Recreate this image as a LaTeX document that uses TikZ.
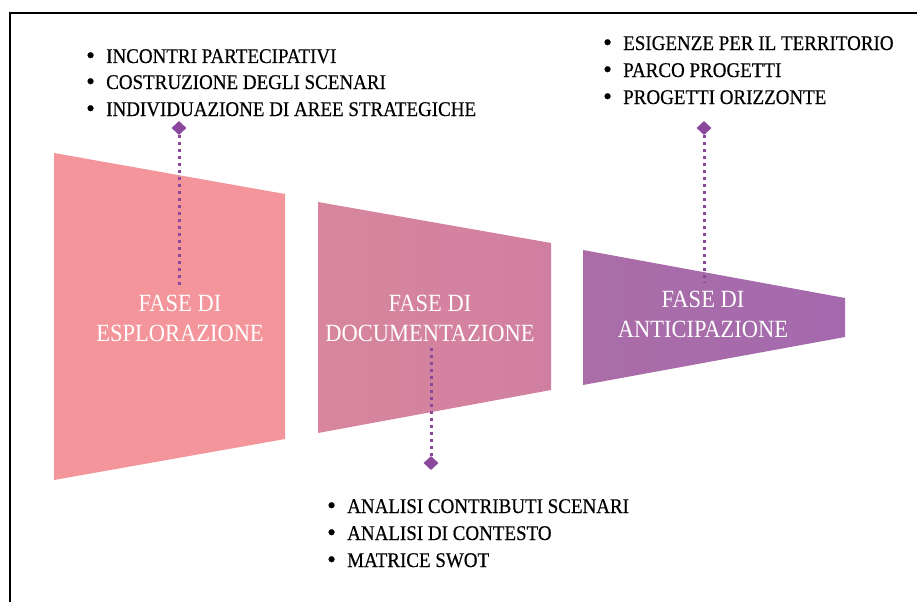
\documentclass[tikz,border=0pt]{standalone}
\usepackage{fontspec}
\setmainfont{Liberation Serif}
\newfontfamily\listfont[FakeBold=0.5]{Liberation Serif}
\usetikzlibrary{shapes.geometric}
\definecolor{phaseA}{HTML}{F3959A}
\definecolor{phaseBl}{HTML}{D7869D}
\definecolor{phaseBr}{HTML}{D17FA0}
\definecolor{phaseCl}{HTML}{AA6DA8}
\definecolor{phaseCr}{HTML}{A46AAD}
\definecolor{linkc}{HTML}{8A479B}
\tikzset{
  listitem/.style={anchor=base west, inner sep=0pt, font=\listfont\fontsize{19}{19}\selectfont, text=black},
  phaselabel/.style={align=center, text=white, font=\fontsize{22.5}{30}\selectfont, inner sep=0pt},
  marker/.style={diamond, fill=linkc, inner sep=0pt, minimum width=15pt, minimum height=14pt},
  leader/.style={draw=linkc, line width=3pt, dash pattern=on 3pt off 4pt},
  frameline/.style={draw=black, line width=2pt},
}
\newcommand{\bitem}[1]{\makebox[20pt][l]{\raisebox{-0.5pt}{\fontsize{25}{25}\selectfont •}}\scalebox{1}[1.1]{#1}}
\newcommand{\tall}[1]{\scalebox{1}[1.1]{#1}}
\begin{document}
\begin{tikzpicture}[x=1pt,y=-1pt]
\useasboundingbox (0,0) rectangle (917,602);
% frame
\draw[frameline] (10,602) -- (10,13) -- (917,13);
% funnel segments
\fill[phaseA] (54,153) -- (285,194) -- (285,439) -- (54,480) -- cycle;
\shade[left color=phaseBl, right color=phaseBr] (318,202) -- (551,243) -- (551,390) -- (318,433) -- cycle;
\shade[left color=phaseCl, right color=phaseCr] (583,250) -- (845,298) -- (845,337) -- (583,385) -- cycle;
% connectors
\node[marker] (d1) at (179,128) {};
\coordinate (e1) at (179,287);
\draw[leader] (d1.south) -- (e1);
\node[marker] (d2) at (431,463) {};
\coordinate (e2) at (431,346);
\draw[leader] (d2.north) -- (e2);
\node[marker] (d3) at (704,128) {};
\coordinate (e3) at (704,283);
\draw[leader] (d3.south) -- (e3);
% phase labels
\node[phaselabel] (p1) at (180,318.5) {\tall{FASE DI}\\\tall{ESPLORAZIONE}};
\node[phaselabel] (p2) at (430,318.5) {\tall{FASE DI}\\\tall{DOCUMENTAZIONE}};
\node[phaselabel] (p3) at (703,314.5) {\tall{FASE DI}\\\tall{ANTICIPAZIONE}};
% lists
\node[listitem] (a1) at (86,63) {\bitem{INCONTRI PARTECIPATIVI}};
\node[listitem] (a2) at (86,89) {\bitem{COSTRUZIONE DEGLI SCENARI}};
\node[listitem] (a3) at (86,116) {\bitem{INDIVIDUAZIONE DI AREE STRATEGICHE}};
\node[listitem] (c1) at (603,50) {\bitem{ESIGENZE PER IL TERRITORIO}};
\node[listitem] (c2) at (603,77) {\bitem{PARCO PROGETTI}};
\node[listitem] (c3) at (603,104) {\bitem{PROGETTI ORIZZONTE}};
\node[listitem] (b1) at (327,513) {\bitem{ANALISI CONTRIBUTI SCENARI}};
\node[listitem] (b2) at (327,540) {\bitem{ANALISI DI CONTESTO}};
\node[listitem] (b3) at (327,567) {\bitem{MATRICE SWOT}};
\end{tikzpicture}
\end{document}
